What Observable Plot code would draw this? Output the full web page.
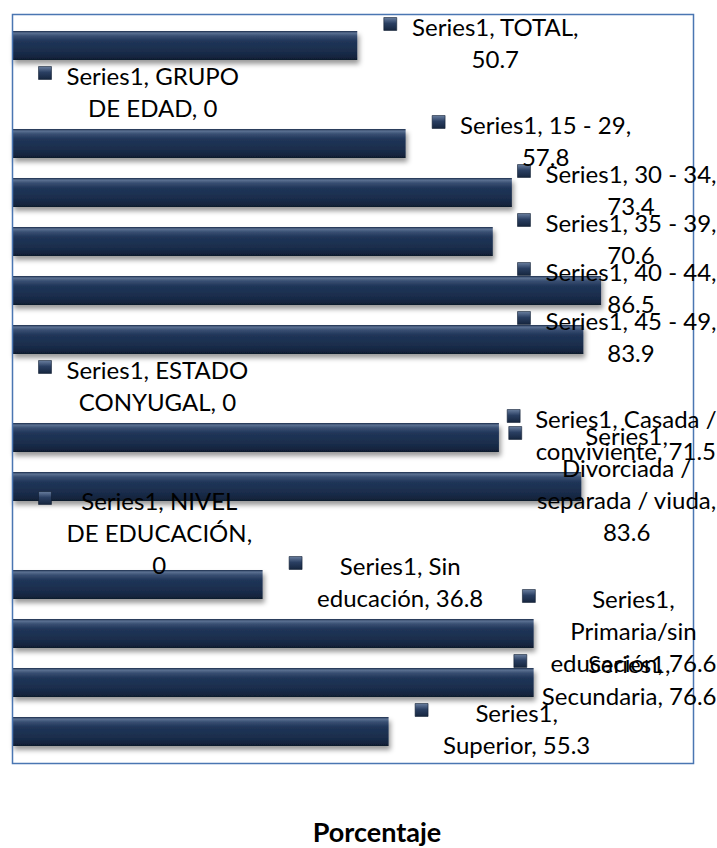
<!DOCTYPE html>
<html>
<head>
<meta charset="utf-8">
<script src="https://cdn.jsdelivr.net/npm/d3@7"></script>
<script src="https://cdn.jsdelivr.net/npm/@observablehq/plot@0.6"></script>
<style>
  html, body { margin: 0; padding: 0; background: #ffffff; }
  #wrap { position: relative; width: 717px; height: 848px; overflow: hidden; background: #fff; }
  #title { position: absolute; left: 377px; top: 815px; transform: translateX(-50%);
           font: bold 27px Lato, sans-serif; color: #000; white-space: nowrap; }
</style>
</head>
<body>
<div id="wrap">
  <div id="chart"></div>
  <div id="title">Porcentaje</div>
</div>
<script>
// ---- data ----
const categories = [
  "TOTAL", "GRUPO DE EDAD", "15 - 29", "30 - 34", "35 - 39", "40 - 44", "45 - 49",
  "ESTADO CONYUGAL", "Casada / conviviente", "Divorciada / separada / viuda",
  "NIVEL DE EDUCACIÓN", "Sin educación", "Primaria/sin educación", "Secundaria", "Superior"
];
const values = [50.7, 0, 57.8, 73.4, 70.6, 86.5, 83.9, 0, 71.5, 83.6, 0, 36.8, 76.6, 76.6, 55.3];
const seriesName = "Series1";
// data label text as wrapped in the reference
const labelTexts = [
  "Series1, TOTAL,\n50.7",
  "Series1, GRUPO\nDE EDAD, 0",
  "Series1, 15 - 29,\n57.8",
  "Series1, 30 - 34,\n73.4",
  "Series1, 35 - 39,\n70.6",
  "Series1, 40 - 44,\n86.5",
  "Series1, 45 - 49,\n83.9",
  "Series1, ESTADO\nCONYUGAL, 0",
  "Series1, Casada /\nconviviente, 71.5",
  "Series1,\nDivorciada /\nseparada / viuda,\n83.6",
  "Series1, NIVEL\nDE EDUCACIÓN,\n0",
  "Series1, Sin\neducación, 36.8",
  "Series1,\nPrimaria/sin\neducación, 76.6",
  "Series1,\nSecundaria, 76.6",
  "Series1,\nSuperior, 55.3"
];
const xDomain = [0, 100];

// ---- layout ----
const W = 717, H = 790, ML = 12, MR = 24, MT = 14, MB = H - 763;
const FONT = 24, LINE = 32;
const ppu = (W - ML - MR) / (xDomain[1] - xDomain[0]);
const ctx = document.createElement("canvas").getContext("2d");
ctx.font = FONT + "px Lato";

const rows = categories.map((c, i) => {
  const lines = labelTexts[i].split("\n");
  const w = Math.max(...lines.map(l => ctx.measureText(l).width));
  const barEnd = ML + values[i] * ppu;
  const mLeft = Math.min(barEnd + 26, W - 1 - w - 28);
  return {
    category: c, value: values[i], label: labelTexts[i], n: lines.length,
    mx: (mLeft + 6.5 - ML) / ppu,
    tx: (mLeft + 28 + w / 2 - ML) / ppu
  };
});

const dotMarks = [2, 3, 4].map(n => Plot.dot(rows.filter(d => d.n === n), {
  x: "mx", y: "category", symbol: "square", r: 7.3,
  fill: "url(#mkGrad)", stroke: "#0f1c30", strokeWidth: 0.6,
  dy: -(n - 1) / 2 * LINE - 6
}));

const svg = Plot.plot({
  width: W, height: H,
  marginLeft: ML, marginRight: MR, marginTop: MT, marginBottom: MB,
  style: { fontFamily: "Lato, sans-serif", fontSize: FONT + "px", background: "white", overflow: "visible" },
  x: { domain: xDomain, axis: null },
  y: { domain: categories, axis: null, paddingInner: 0.4, paddingOuter: 0.2 },
  marks: [
    Plot.barX(rows, { x: "value", y: "category", fill: "url(#barGrad)", className: "bars" }),
    Plot.frame({ stroke: "#4a76b2", strokeWidth: 1.5 }),
    ...dotMarks,
    Plot.text(rows, {
      x: "tx", y: "category", text: "label", dy: -4,
      textAnchor: "middle", lineAnchor: "middle", lineHeight: LINE / FONT,
      fontSize: FONT, fill: "#000"
    })
  ]
});

const defs = document.createElementNS("http://www.w3.org/2000/svg", "defs");
defs.innerHTML = `
<linearGradient id="barGrad" x1="0" y1="0" x2="0" y2="1">
  <stop offset="0" stop-color="#1a2c4a"/>
  <stop offset="0.07" stop-color="#5d7293"/>
  <stop offset="0.17" stop-color="#394f72"/>
  <stop offset="0.35" stop-color="#203558"/>
  <stop offset="0.7" stop-color="#1a2d4c"/>
  <stop offset="0.92" stop-color="#14243d"/>
  <stop offset="1" stop-color="#0d182b"/>
</linearGradient>
<linearGradient id="mkGrad" x1="0" y1="0" x2="0" y2="1">
  <stop offset="0" stop-color="#6a7fa0"/>
  <stop offset="0.45" stop-color="#2a3f62"/>
  <stop offset="1" stop-color="#16263f"/>
</linearGradient>
<filter id="shadow" x="-5%" y="-30%" width="112%" height="180%">
  <feDropShadow dx="2" dy="4" stdDeviation="2.5" flood-color="#000" flood-opacity="0.4"/>
</filter>`;
svg.prepend(defs);
const barsG = svg.querySelector(".bars");
if (barsG) barsG.setAttribute("filter", "url(#shadow)");
document.getElementById("chart").append(svg);
</script>
</body>
</html>
